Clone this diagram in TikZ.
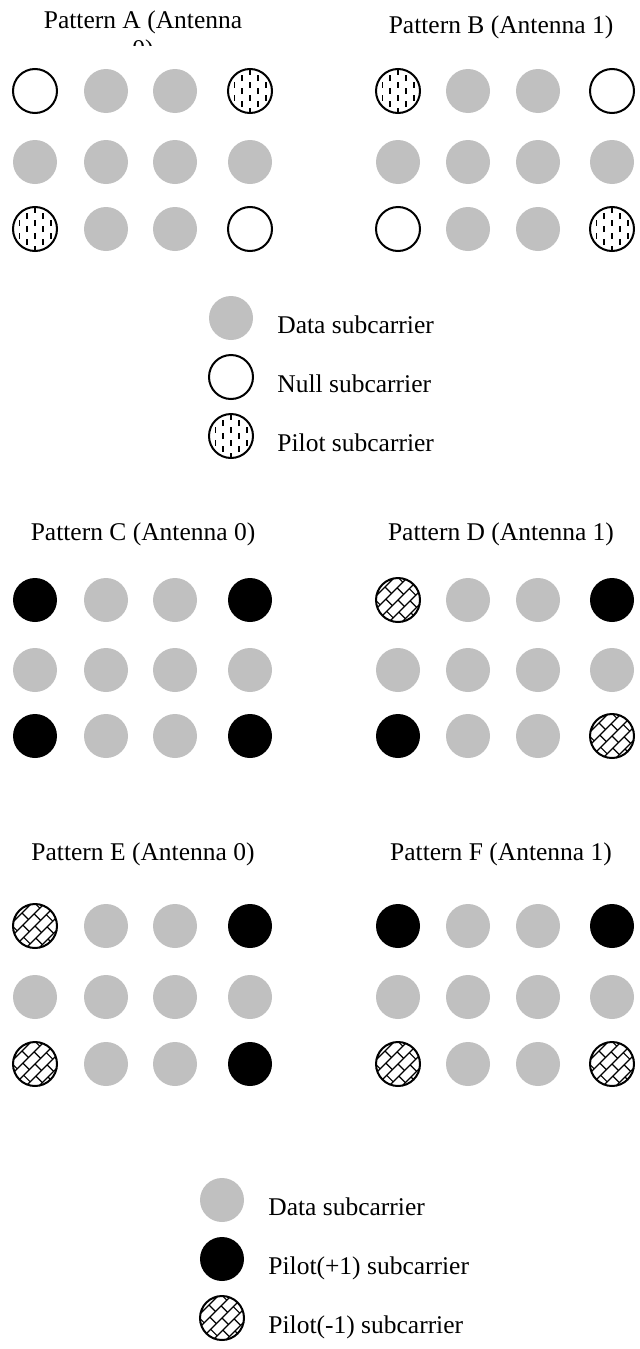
\documentclass[tikz,border=0pt]{standalone}
\usepackage{fontspec}
\setmainfont{Liberation Serif}
\usetikzlibrary{positioning}
\definecolor{datagray}{RGB}{192,192,192}

\begin{document}
\begin{tikzpicture}[x=0.5pt, y=-0.5pt,
    font=\fontsize{12.75pt}{14.5pt}\selectfont,
    every node/.style={inner sep=0pt},
    sc/.style={circle, minimum size=22pt, inner sep=0pt},
    datasc/.style={sc, fill=datagray},
    nullsc/.style={sc, draw, line width=1pt, fill=white},
    plussc/.style={sc, fill=black},
    pilotsc/.style={sc, draw, line width=1pt, path picture={
        \foreach \i/\o in {-3/0,-2/1,-1/0,0/1,1/0,2/1,3/0}
          \foreach \j in {-2,...,2}
            \draw[line width=0.9pt] ([shift={(\i*3.9pt,\j*6.5pt+\o*3.25pt-1.5pt)}]path picture bounding box.center) -- ++(0,3pt);
      }},
    minussc/.style={sc, draw, line width=1pt, path picture={
        % schraege Linien (/) mit versetzten Stegen (\)
        \foreach \j in {-3,...,3}
          \draw[line width=0.6pt] ([shift={({0.7071*(-15pt-\j*4.6pt)},{0.7071*(-15pt+\j*4.6pt)})}]path picture bounding box.center) -- ++(21.2pt,21.2pt);
        \foreach \j in {-3,...,2}
          \foreach \i in {-2,...,2} {
            \pgfmathsetmacro{\bs}{\i*8+mod(\j+3,2)*4}
            \draw[line width=0.6pt] ([shift={({0.7071*(\bs pt-\j*4.6pt)},{0.7071*(\bs pt+\j*4.6pt)})}]path picture bounding box.center) -- ++(-3.25pt,3.25pt);
          }
      }},
    pattitle/.style={anchor=base},
    legtext/.style={anchor=base west}]
  \useasboundingbox (0,0) rectangle (640,1349);

  % Titel A wird umgebrochen und unten abgeschnitten
  \begin{scope}
    \clip (0,0) rectangle (320,45);
    \node[pattitle, align=center] (tA) at (143,57) {Pattern A (Antenna\\0)};
  \end{scope}
  \node[pattitle] (tB) at (501,33) {Pattern B (Antenna 1)};

  % Pattern A und B
  \foreach \s [count=\k from 0] in {nullsc,datasc,datasc,pilotsc,datasc,datasc,datasc,datasc,pilotsc,datasc,datasc,nullsc}
    \node[\s] (A\k) at ({35+{0,71,140,215}[mod(\k,4)]},{91+{0,71,138}[div(\k,4)]}) {};
  \foreach \s [count=\k from 0] in {pilotsc,datasc,datasc,nullsc,datasc,datasc,datasc,datasc,nullsc,datasc,datasc,pilotsc}
    \node[\s] (B\k) at ({398+{0,70,140,214}[mod(\k,4)]},{91+{0,71,138}[div(\k,4)]}) {};

  % Legende 1
  \node[datasc] (ld) at (231,318) {};
  \node[nullsc] (ln) at (231,377) {};
  \node[pilotsc] (lp) at (231,436) {};
  \node[legtext] (ldt) at (277,333) {Data subcarrier};
  \node[legtext] (lnt) at (277,392) {Null subcarrier};
  \node[legtext] (lpt) at (277,451) {Pilot subcarrier};

  % Pattern C und D
  \node[pattitle] (tC) at (143,540) {Pattern C (Antenna 0)};
  \node[pattitle] (tD) at (501,540) {Pattern D (Antenna 1)};
  \foreach \s [count=\k from 0] in {plussc,datasc,datasc,plussc,datasc,datasc,datasc,datasc,plussc,datasc,datasc,plussc}
    \node[\s] (C\k) at ({35+{0,71,140,215}[mod(\k,4)]},{600+{0,70,136}[div(\k,4)]}) {};
  \foreach \s [count=\k from 0] in {minussc,datasc,datasc,plussc,datasc,datasc,datasc,datasc,plussc,datasc,datasc,minussc}
    \node[\s] (D\k) at ({398+{0,70,140,214}[mod(\k,4)]},{600+{0,70,136}[div(\k,4)]}) {};

  % Pattern E und F
  \node[pattitle] (tE) at (143,860) {Pattern E (Antenna 0)};
  \node[pattitle] (tF) at (501,860) {Pattern F (Antenna 1)};
  \foreach \s [count=\k from 0] in {minussc,datasc,datasc,plussc,datasc,datasc,datasc,datasc,minussc,datasc,datasc,plussc}
    \node[\s] (E\k) at ({35+{0,71,140,215}[mod(\k,4)]},{926+{0,71,138}[div(\k,4)]}) {};
  \foreach \s [count=\k from 0] in {plussc,datasc,datasc,plussc,datasc,datasc,datasc,datasc,minussc,datasc,datasc,minussc}
    \node[\s] (F\k) at ({398+{0,70,140,214}[mod(\k,4)]},{926+{0,71,138}[div(\k,4)]}) {};

  % Legende 2
  \node[datasc] (le) at (222,1200) {};
  \node[plussc] (lplus) at (222,1259) {};
  \node[minussc] (lminus) at (222,1318) {};
  \node[legtext] (let) at (268,1215) {Data subcarrier};
  \node[legtext] (lplust) at (268,1274) {Pilot(+1) subcarrier};
  \node[legtext] (lminust) at (268,1333) {Pilot(-1) subcarrier};
\end{tikzpicture}
\end{document}
